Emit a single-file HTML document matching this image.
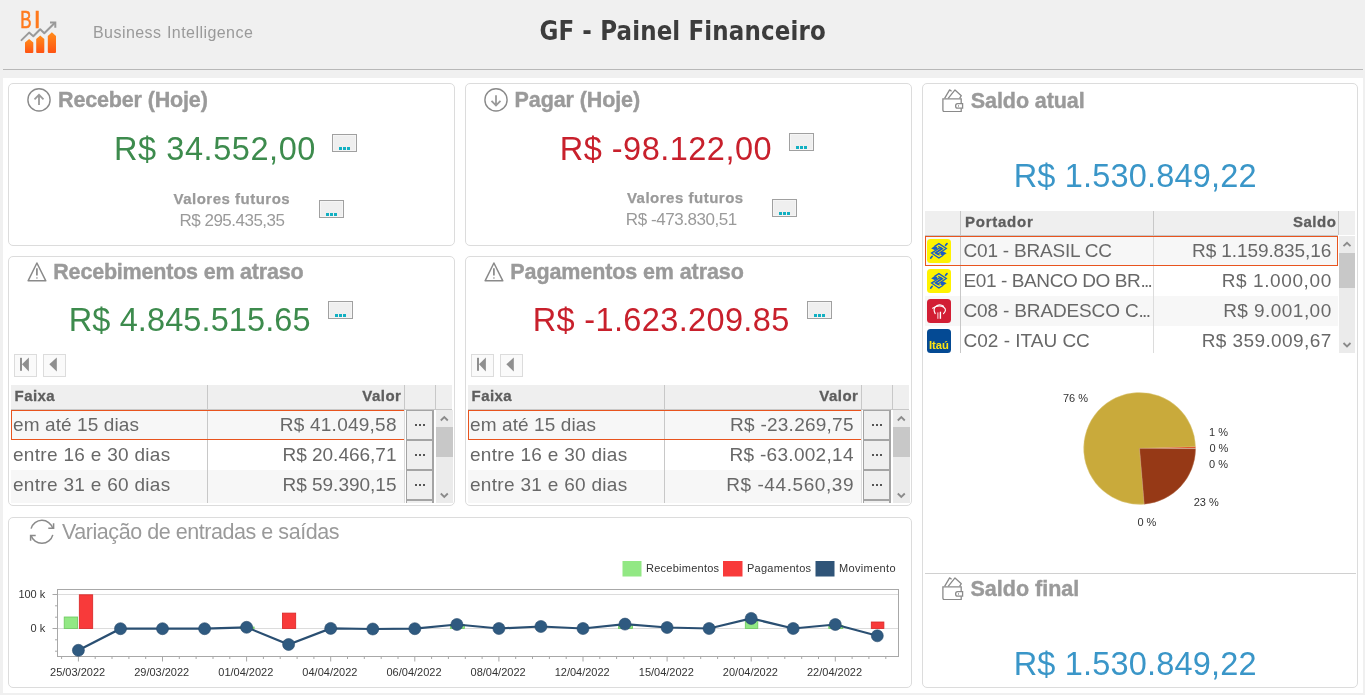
<!DOCTYPE html>
<html lang="pt-BR"><head><meta charset="utf-8"><title>GF - Painel Financeiro</title>
<style>
*{margin:0;padding:0}
html,body{width:1365px;height:695px;overflow:hidden}
body{background:#f0f0f0;position:relative;font-family:"Liberation Sans",Arial,sans-serif}
.t{position:absolute;white-space:nowrap}
.db{position:absolute;width:25px;height:18px;box-sizing:border-box;border:1px solid #a0a0a0;background:#efefef;box-shadow:inset 0 0 0 1px #f5f5f5}
.db i{position:absolute;top:12px;width:3px;height:3px;background:#12b0c2}
.gb{position:absolute;width:28px;box-sizing:border-box;border:1px solid #a4a4a4;border-right-width:2px;background:#efefef}
.gb i{position:absolute;top:13px;width:2px;height:2px;background:#555}
</style></head>
<body>
<svg style="position:absolute;left:0;top:0" width="70" height="60" viewBox="0 0 70 60">
<defs><linearGradient id="og" x1="0" y1="0" x2="0" y2="1"><stop offset="0" stop-color="#ff8c1c"/><stop offset="1" stop-color="#ff5312"/></linearGradient></defs>
<text x="20.2" y="28.4" font-family="Liberation Sans, sans-serif" font-size="24.5" fill="#ff7a1e" stroke="#ff7a1e" stroke-width="0.6" textLength="11.3" lengthAdjust="spacingAndGlyphs">B</text><text x="33.7" y="28.4" font-family="Liberation Sans, sans-serif" font-size="24.5" fill="#ff7a1e" stroke="#ff7a1e" stroke-width="0.6">I</text>
<polyline points="21.5,40.1 29.1,32.6 33.3,36.2 40.2,29.2 44.3,33.2 54.6,23" fill="none" stroke="#9a9a9a" stroke-width="2" stroke-linejoin="round" stroke-linecap="round"/>
<polyline points="50,22.6 55.3,22.6 55.3,27.8" fill="none" stroke="#9a9a9a" stroke-width="2" stroke-linejoin="miter"/>
<path d="M25,42.5 L29.1,39 L33.3,42.5 L33.3,52 Q33.3,53 32.3,53 L26,53 Q25,53 25,52 Z" fill="url(#og)"/>
<path d="M36.2,39 L40.2,35.5 L44.3,39 L44.3,52 Q44.3,53 43.3,53 L37.2,53 Q36.2,53 36.2,52 Z" fill="url(#og)"/>
<path d="M47.8,36 L51.9,32.3 L56,36 L56,52 Q56,53 55,53 L48.8,53 Q47.8,53 47.8,52 Z" fill="url(#og)"/>
</svg>
<div class="t" style="top:25.00px;font-size:16px;line-height:16px;color:#9a9a9a;font-weight:normal;font-family:'Liberation Sans', Arial, sans-serif;letter-spacing:0.45px;left:93.00px;word-spacing:0.5px;">Business Intelligence</div>
<div class="t" style="left:539.4px;top:13.5px;letter-spacing:0.12px;font-family:'DejaVu Sans', Verdana, sans-serif;font-weight:bold;font-size:23px;line-height:30px;color:#3c3c3c;transform:scaleY(1.143);transform-origin:0 0;">GF - Painel Financeiro</div>
<div style="position:absolute;left:3px;top:69px;width:1360px;height:1px;background:#b8b8b8"></div>
<div style="position:absolute;left:3px;top:78px;width:1360px;height:615px;background:#fff"></div>
<div style="position:absolute;left:8px;top:83px;width:447px;height:163px;border:1px solid #dcdcdc;border-radius:5px;box-sizing:border-box"></div>
<div style="position:absolute;left:465px;top:83px;width:447px;height:163px;border:1px solid #dcdcdc;border-radius:5px;box-sizing:border-box"></div>
<div style="position:absolute;left:8px;top:256px;width:447px;height:250px;border:1px solid #dcdcdc;border-radius:5px;box-sizing:border-box"></div>
<div style="position:absolute;left:465px;top:256px;width:447px;height:250px;border:1px solid #dcdcdc;border-radius:5px;box-sizing:border-box"></div>
<div style="position:absolute;left:8px;top:517px;width:904px;height:171px;border:1px solid #dcdcdc;border-radius:5px;box-sizing:border-box"></div>
<div style="position:absolute;left:922px;top:83px;width:436px;height:605px;border:1px solid #dcdcdc;border-radius:5px;box-sizing:border-box"></div>
<div style="position:absolute;left:925px;top:573px;width:431px;height:1px;background:#d0d0d0"></div>
<svg style="position:absolute;left:27px;top:88px" width="30" height="30" viewBox="27 88 30 30">
<circle cx="39" cy="99.9" r="11.1" fill="none" stroke="#8a8a8a" stroke-width="1.4"/>
<path d="M39,95 L39,105 M34.5,99.3 L39,94.8 L43.5,99.3" fill="none" stroke="#9a9a9a" stroke-width="1.8"/></svg>
<div class="t" style="top:90.00px;font-size:21.5px;line-height:21.5px;color:#9a9a9a;font-weight:bold;font-family:'Liberation Sans', Arial, sans-serif;letter-spacing:-0.15px;left:58.00px;-webkit-text-stroke:0.4px #9a9a9a;">Receber (Hoje)</div>
<div class="t" style="top:133.00px;font-size:32.5px;line-height:32.5px;color:#3d8b4d;font-weight:normal;font-family:'Liberation Sans', Arial, sans-serif;letter-spacing:0.57px;left:114.00px;">R$ 34.552,00</div>
<div class="db" style="left:332px;top:134px"><i style="left:6px"></i><i style="left:10px"></i><i style="left:14px"></i></div>
<div class="t" style="top:191.00px;font-size:15px;line-height:15px;color:#9a9a9a;font-weight:bold;font-family:'Liberation Sans', Arial, sans-serif;letter-spacing:0.5px;left:-168.20px;width:800px;text-align:center;-webkit-text-stroke:0.25px #9a9a9a;">Valores futuros</div>
<div class="t" style="top:212.00px;font-size:17px;line-height:17px;color:#9a9a9a;font-weight:normal;font-family:'Liberation Sans', Arial, sans-serif;letter-spacing:-0.5px;left:-168.00px;width:800px;text-align:center;">R$ 295.435,35</div>
<div class="db" style="left:319px;top:200px"><i style="left:6px"></i><i style="left:10px"></i><i style="left:14px"></i></div>
<svg style="position:absolute;left:484px;top:88px" width="30" height="30" viewBox="27 88 30 30">
<circle cx="39" cy="99.9" r="11.1" fill="none" stroke="#8a8a8a" stroke-width="1.4"/>
<path d="M39,95.3 L39,105.3 M34.5,100.9 L39,105.4 L43.5,100.9" fill="none" stroke="#9a9a9a" stroke-width="1.8"/></svg>
<div class="t" style="top:90.00px;font-size:21.5px;line-height:21.5px;color:#9a9a9a;font-weight:bold;font-family:'Liberation Sans', Arial, sans-serif;letter-spacing:-0.1px;left:514.60px;-webkit-text-stroke:0.4px #9a9a9a;">Pagar (Hoje)</div>
<div class="t" style="top:133.00px;font-size:32.5px;line-height:32.5px;color:#c8202c;font-weight:normal;font-family:'Liberation Sans', Arial, sans-serif;letter-spacing:0.48px;left:559.80px;">R$ -98.122,00</div>
<div class="db" style="left:789px;top:133px"><i style="left:6px"></i><i style="left:10px"></i><i style="left:14px"></i></div>
<div class="t" style="top:190.00px;font-size:15px;line-height:15px;color:#9a9a9a;font-weight:bold;font-family:'Liberation Sans', Arial, sans-serif;letter-spacing:0.5px;left:285.30px;width:800px;text-align:center;-webkit-text-stroke:0.25px #9a9a9a;">Valores futuros</div>
<div class="t" style="top:211.00px;font-size:17px;line-height:17px;color:#9a9a9a;font-weight:normal;font-family:'Liberation Sans', Arial, sans-serif;letter-spacing:-0.45px;left:281.30px;width:800px;text-align:center;">R$ -473.830,51</div>
<div class="db" style="left:772px;top:199px"><i style="left:6px"></i><i style="left:10px"></i><i style="left:14px"></i></div>
<svg style="position:absolute;left:24px;top:259px" width="26" height="26" viewBox="0 0 26 26">
<path d="M12.9,4 L21.8,21.8 L4.1,21.8 Z" fill="none" stroke="#8a8a8a" stroke-width="1.5" stroke-linejoin="round"/>
<path d="M12.9,9.2 L12.9,16.6 M12.9,18.4 L12.9,19.6" stroke="#8a8a8a" stroke-width="1.7"/></svg>
<div class="t" style="top:262.00px;font-size:21.5px;line-height:21.5px;color:#9a9a9a;font-weight:bold;font-family:'Liberation Sans', Arial, sans-serif;letter-spacing:-0.2px;left:53.30px;-webkit-text-stroke:0.4px #9a9a9a;">Recebimentos em atraso</div>
<div class="t" style="top:304.00px;font-size:32.5px;line-height:32.5px;color:#3d8b4d;font-weight:normal;font-family:'Liberation Sans', Arial, sans-serif;letter-spacing:0.1px;left:68.80px;">R$ 4.845.515.65</div>
<div class="db" style="left:328px;top:301px"><i style="left:6px"></i><i style="left:10px"></i><i style="left:14px"></i></div>
<svg style="position:absolute;left:14px;top:354px" width="53" height="24" viewBox="0 0 53 24">
<rect x="0.5" y="0.5" width="22" height="22" fill="#fafafa" stroke="#dcdcdc"/>
<rect x="29.5" y="0.5" width="22" height="22" fill="#fafafa" stroke="#dcdcdc"/>
<rect x="6" y="3.8" width="2" height="13" fill="#8f8f8f"/>
<path d="M8,10.3 L14.9,3.5 L14.9,17.5 Z" fill="#8f8f8f"/>
<path d="M35.3,10.3 L42.8,3.5 L42.8,17.5 Z" fill="#8f8f8f"/></svg>
<div style="position:absolute;left:11px;top:385px;width:441px;height:24px;background:#efefef"></div>
<div style="position:absolute;left:207px;top:385px;width:1px;height:24px;background:#c8c8c8"></div>
<div style="position:absolute;left:404px;top:385px;width:1px;height:24px;background:#c8c8c8"></div>
<div style="position:absolute;left:435px;top:385px;width:1px;height:24px;background:#c8c8c8"></div>
<div class="t" style="top:388.00px;font-size:15px;line-height:15px;color:#5e5e5e;font-weight:bold;font-family:'Liberation Sans', Arial, sans-serif;letter-spacing:0.4px;left:14.60px;-webkit-text-stroke:0.3px #5e5e5e;">Faixa</div>
<div class="t" style="top:388.00px;font-size:15px;line-height:15px;color:#5e5e5e;font-weight:bold;font-family:'Liberation Sans', Arial, sans-serif;letter-spacing:0.5px;right:963.60px;-webkit-text-stroke:0.3px #5e5e5e;">Valor</div>
<div style="position:absolute;left:11px;top:410px;width:393px;height:30px;background:#f7f7f7"></div>
<div class="t" style="top:415.00px;font-size:19px;line-height:19px;color:#686868;font-weight:normal;font-family:'Liberation Sans', Arial, sans-serif;letter-spacing:0.1px;left:13.00px;">em até 15 dias</div>
<div class="t" style="top:415.00px;font-size:19px;line-height:19px;color:#686868;font-weight:normal;font-family:'Liberation Sans', Arial, sans-serif;letter-spacing:0.25px;right:968.25px;">R$ 41.049,58</div>
<div style="position:absolute;left:11px;top:440px;width:393px;height:30px;background:#fff"></div>
<div class="t" style="top:445.00px;font-size:19px;line-height:19px;color:#686868;font-weight:normal;font-family:'Liberation Sans', Arial, sans-serif;letter-spacing:0.3px;left:13.00px;">entre 16 e 30 dias</div>
<div class="t" style="top:445.00px;font-size:19px;line-height:19px;color:#686868;font-weight:normal;font-family:'Liberation Sans', Arial, sans-serif;right:968.50px;">R$ 20.466,71</div>
<div style="position:absolute;left:11px;top:470px;width:393px;height:30px;background:#f7f7f7"></div>
<div class="t" style="top:475.00px;font-size:19px;line-height:19px;color:#686868;font-weight:normal;font-family:'Liberation Sans', Arial, sans-serif;letter-spacing:0.3px;left:13.00px;">entre 31 e 60 dias</div>
<div class="t" style="top:475.00px;font-size:19px;line-height:19px;color:#686868;font-weight:normal;font-family:'Liberation Sans', Arial, sans-serif;right:968.50px;">R$ 59.390,15</div>
<div style="position:absolute;left:11px;top:500px;width:393px;height:3px;background:#f7f7f7"></div>
<div style="position:absolute;left:207px;top:409px;width:1px;height:94px;background:#c8c8c8"></div>
<div style="position:absolute;left:404px;top:409px;width:1px;height:94px;background:#dcdcdc"></div>
<div style="position:absolute;left:11px;top:410px;width:393px;height:30px;border:1px solid #e8541e;border-right:none;box-sizing:border-box"></div>
<div style="position:absolute;left:11px;top:409px;width:441px;height:1px;background:#c8c8c8"></div>
<div class="gb" style="left:406px;top:410px;height:30px;"><i style="left:8px"></i><i style="left:12.2px"></i><i style="left:16.4px"></i></div>
<div class="gb" style="left:406px;top:440px;height:30px;"><i style="left:8px"></i><i style="left:12.2px"></i><i style="left:16.4px"></i></div>
<div class="gb" style="left:406px;top:470px;height:30px;"><i style="left:8px"></i><i style="left:12.2px"></i><i style="left:16.4px"></i></div>
<div class="gb" style="left:406px;top:500px;height:3px;border-bottom:none;"></div>
<div style="position:absolute;left:436px;top:410px;width:17px;height:93px;background:#ebebeb"></div>
<div style="position:absolute;left:436px;top:427px;width:17px;height:30px;background:#c8c8c8"></div>
<svg style="position:absolute;left:436px;top:410px" width="17" height="93" viewBox="0 0 17 93">
<path d="M4.8,10.5 L8.3,7 L11.8,10.5" fill="none" stroke="#8a8a8a" stroke-width="1.8"/>
<path d="M4.8,83.5 L8.3,87 L11.8,83.5" fill="none" stroke="#8a8a8a" stroke-width="1.8"/></svg>
<svg style="position:absolute;left:481px;top:259px" width="26" height="26" viewBox="0 0 26 26">
<path d="M12.9,4 L21.8,21.8 L4.1,21.8 Z" fill="none" stroke="#8a8a8a" stroke-width="1.5" stroke-linejoin="round"/>
<path d="M12.9,9.2 L12.9,16.6 M12.9,18.4 L12.9,19.6" stroke="#8a8a8a" stroke-width="1.7"/></svg>
<div class="t" style="top:262.00px;font-size:21.5px;line-height:21.5px;color:#9a9a9a;font-weight:bold;font-family:'Liberation Sans', Arial, sans-serif;letter-spacing:-0.1px;left:510.30px;-webkit-text-stroke:0.4px #9a9a9a;">Pagamentos em atraso</div>
<div class="t" style="top:304.00px;font-size:32.5px;line-height:32.5px;color:#c8202c;font-weight:normal;font-family:'Liberation Sans', Arial, sans-serif;letter-spacing:0.36px;left:532.70px;">R$ -1.623.209.85</div>
<div class="db" style="left:807px;top:301px"><i style="left:6px"></i><i style="left:10px"></i><i style="left:14px"></i></div>
<svg style="position:absolute;left:471px;top:354px" width="53" height="24" viewBox="0 0 53 24">
<rect x="0.5" y="0.5" width="22" height="22" fill="#fafafa" stroke="#dcdcdc"/>
<rect x="29.5" y="0.5" width="22" height="22" fill="#fafafa" stroke="#dcdcdc"/>
<rect x="6" y="3.8" width="2" height="13" fill="#8f8f8f"/>
<path d="M8,10.3 L14.9,3.5 L14.9,17.5 Z" fill="#8f8f8f"/>
<path d="M35.3,10.3 L42.8,3.5 L42.8,17.5 Z" fill="#8f8f8f"/></svg>
<div style="position:absolute;left:468px;top:385px;width:441px;height:24px;background:#efefef"></div>
<div style="position:absolute;left:664px;top:385px;width:1px;height:24px;background:#c8c8c8"></div>
<div style="position:absolute;left:861px;top:385px;width:1px;height:24px;background:#c8c8c8"></div>
<div style="position:absolute;left:892px;top:385px;width:1px;height:24px;background:#c8c8c8"></div>
<div class="t" style="top:388.00px;font-size:15px;line-height:15px;color:#5e5e5e;font-weight:bold;font-family:'Liberation Sans', Arial, sans-serif;letter-spacing:0.4px;left:471.60px;-webkit-text-stroke:0.3px #5e5e5e;">Faixa</div>
<div class="t" style="top:388.00px;font-size:15px;line-height:15px;color:#5e5e5e;font-weight:bold;font-family:'Liberation Sans', Arial, sans-serif;letter-spacing:0.5px;right:506.60px;-webkit-text-stroke:0.3px #5e5e5e;">Valor</div>
<div style="position:absolute;left:468px;top:410px;width:393px;height:30px;background:#f7f7f7"></div>
<div class="t" style="top:415.00px;font-size:19px;line-height:19px;color:#686868;font-weight:normal;font-family:'Liberation Sans', Arial, sans-serif;letter-spacing:0.1px;left:470.00px;">em até 15 dias</div>
<div class="t" style="top:415.00px;font-size:19px;line-height:19px;color:#686868;font-weight:normal;font-family:'Liberation Sans', Arial, sans-serif;letter-spacing:0.25px;right:511.25px;">R$ -23.269,75</div>
<div style="position:absolute;left:468px;top:440px;width:393px;height:30px;background:#fff"></div>
<div class="t" style="top:445.00px;font-size:19px;line-height:19px;color:#686868;font-weight:normal;font-family:'Liberation Sans', Arial, sans-serif;letter-spacing:0.3px;left:470.00px;">entre 16 e 30 dias</div>
<div class="t" style="top:445.00px;font-size:19px;line-height:19px;color:#686868;font-weight:normal;font-family:'Liberation Sans', Arial, sans-serif;letter-spacing:0.3px;right:511.20px;">R$ -63.002,14</div>
<div style="position:absolute;left:468px;top:470px;width:393px;height:30px;background:#f7f7f7"></div>
<div class="t" style="top:475.00px;font-size:19px;line-height:19px;color:#686868;font-weight:normal;font-family:'Liberation Sans', Arial, sans-serif;letter-spacing:0.3px;left:470.00px;">entre 31 e 60 dias</div>
<div class="t" style="top:475.00px;font-size:19px;line-height:19px;color:#686868;font-weight:normal;font-family:'Liberation Sans', Arial, sans-serif;letter-spacing:0.58px;right:510.92px;">R$ -44.560,39</div>
<div style="position:absolute;left:468px;top:500px;width:393px;height:3px;background:#f7f7f7"></div>
<div style="position:absolute;left:664px;top:409px;width:1px;height:94px;background:#c8c8c8"></div>
<div style="position:absolute;left:861px;top:409px;width:1px;height:94px;background:#dcdcdc"></div>
<div style="position:absolute;left:468px;top:410px;width:393px;height:30px;border:1px solid #e8541e;border-right:none;box-sizing:border-box"></div>
<div style="position:absolute;left:468px;top:409px;width:441px;height:1px;background:#c8c8c8"></div>
<div class="gb" style="left:863px;top:410px;height:30px;"><i style="left:8px"></i><i style="left:12.2px"></i><i style="left:16.4px"></i></div>
<div class="gb" style="left:863px;top:440px;height:30px;"><i style="left:8px"></i><i style="left:12.2px"></i><i style="left:16.4px"></i></div>
<div class="gb" style="left:863px;top:470px;height:30px;"><i style="left:8px"></i><i style="left:12.2px"></i><i style="left:16.4px"></i></div>
<div class="gb" style="left:863px;top:500px;height:3px;border-bottom:none;"></div>
<div style="position:absolute;left:893px;top:410px;width:17px;height:93px;background:#ebebeb"></div>
<div style="position:absolute;left:893px;top:427px;width:17px;height:30px;background:#c8c8c8"></div>
<svg style="position:absolute;left:893px;top:410px" width="17" height="93" viewBox="0 0 17 93">
<path d="M4.8,10.5 L8.3,7 L11.8,10.5" fill="none" stroke="#8a8a8a" stroke-width="1.8"/>
<path d="M4.8,83.5 L8.3,87 L11.8,83.5" fill="none" stroke="#8a8a8a" stroke-width="1.8"/></svg>
<svg style="position:absolute;left:938px;top:86px" width="26" height="26" viewBox="938 86 26 26">
<path d="M944.6,98.3 L949.6,89.9 L951.6,91.3 M948.2,98.3 L955,89.9 L961.3,95.7 L959.6,98.3" fill="none" stroke="#8a8a8a" stroke-width="1.3" stroke-linejoin="round"/>
<path d="M942.9,98.9 L961.2,98.9 L961.2,111.6 L944.4,111.6 Q942.9,111.6 942.9,110 Z" fill="none" stroke="#8a8a8a" stroke-width="1.3"/>
<path d="M962.6,103.6 L957.6,103.6 Q955.6,103.6 955.6,105.9 Q955.6,108.2 957.6,108.2 L962.6,108.2 Z" fill="#fff" stroke="#8a8a8a" stroke-width="1.3"/>
<rect x="958" y="105.2" width="0.9" height="1.5" fill="#8a8a8a"/></svg>
<div class="t" style="top:91.00px;font-size:21.5px;line-height:21.5px;color:#9a9a9a;font-weight:bold;font-family:'Liberation Sans', Arial, sans-serif;letter-spacing:-0.08px;left:970.80px;-webkit-text-stroke:0.4px #9a9a9a;">Saldo atual</div>
<div class="t" style="top:160.00px;font-size:32.5px;line-height:32.5px;color:#3a96c8;font-weight:normal;font-family:'Liberation Sans', Arial, sans-serif;letter-spacing:0.18px;left:735.20px;width:800px;text-align:center;">R$ 1.530.849,22</div>
<div style="position:absolute;left:925px;top:211px;width:430px;height:24px;background:#efefef"></div>
<div style="position:absolute;left:960px;top:211px;width:1px;height:24px;background:#c8c8c8"></div>
<div style="position:absolute;left:1153px;top:211px;width:1px;height:24px;background:#c8c8c8"></div>
<div style="position:absolute;left:1338px;top:211px;width:1px;height:24px;background:#c8c8c8"></div>
<div class="t" style="top:214.00px;font-size:15px;line-height:15px;color:#5e5e5e;font-weight:bold;font-family:'Liberation Sans', Arial, sans-serif;letter-spacing:0.75px;left:965.00px;-webkit-text-stroke:0.3px #5e5e5e;">Portador</div>
<div class="t" style="top:214.00px;font-size:15px;line-height:15px;color:#5e5e5e;font-weight:bold;font-family:'Liberation Sans', Arial, sans-serif;letter-spacing:0.5px;right:28.70px;-webkit-text-stroke:0.3px #5e5e5e;">Saldo</div>
<div style="position:absolute;left:925px;top:236px;width:413px;height:30px;background:#f7f7f7"></div>
<div class="t" style="top:241.00px;font-size:19px;line-height:19px;color:#686868;font-weight:normal;font-family:'Liberation Sans', Arial, sans-serif;letter-spacing:-0.2px;left:963.50px;">C01 - BRASIL CC</div>
<div class="t" style="top:241.00px;font-size:19px;line-height:19px;color:#686868;font-weight:normal;font-family:'Liberation Sans', Arial, sans-serif;letter-spacing:-0.1px;right:33.90px;">R$ 1.159.835,16</div>
<svg style="position:absolute;left:927px;top:239px" width="24" height="24" viewBox="0 0 24 24">
<rect width="24" height="24" rx="3.5" fill="#fff200"/>
<g fill="none" stroke="#1b5cc4" stroke-width="1.3" stroke-linejoin="miter">
<path d="M7.6,7.4 L11.9,4.6 L19.3,9.5 L10.6,15.2 L8.3,13.8 L14.8,9.6 L11.2,7.3"/>
<path d="M16.2,16.2 L11.9,19 L4.5,14.1 L13.2,8.4 L15.5,9.8 L9,14 L12.6,16.3"/></g>
<path d="M4.2,9.4 L7.6,7.1 L10.3,7.9 L10.3,10.6 L7.6,11 Z" fill="#1b5cc4"/>
<path d="M19.6,14.2 L16.2,16.5 L13.5,15.7 L13.5,13 L16.2,12.6 Z" fill="#1b5cc4"/>
<path d="M18.6,6.3 L20,4.6 M5.2,17.3 L3.8,19" stroke="#1b5cc4" stroke-width="1.7" stroke-linecap="round"/></svg>
<div style="position:absolute;left:925px;top:266px;width:413px;height:30px;background:#fff"></div>
<div class="t" style="top:271.00px;font-size:19px;line-height:19px;color:#686868;font-weight:normal;font-family:'Liberation Sans', Arial, sans-serif;letter-spacing:-0.4px;left:963.50px;">E01 - BANCO DO BR<span style="letter-spacing:-1.7px">...</span></div>
<div class="t" style="top:271.00px;font-size:19px;line-height:19px;color:#686868;font-weight:normal;font-family:'Liberation Sans', Arial, sans-serif;letter-spacing:0.6px;right:33.20px;">R$ 1.000,00</div>
<svg style="position:absolute;left:927px;top:269px" width="24" height="24" viewBox="0 0 24 24">
<rect width="24" height="24" rx="3.5" fill="#fff200"/>
<g fill="none" stroke="#1b5cc4" stroke-width="1.3" stroke-linejoin="miter">
<path d="M7.6,7.4 L11.9,4.6 L19.3,9.5 L10.6,15.2 L8.3,13.8 L14.8,9.6 L11.2,7.3"/>
<path d="M16.2,16.2 L11.9,19 L4.5,14.1 L13.2,8.4 L15.5,9.8 L9,14 L12.6,16.3"/></g>
<path d="M4.2,9.4 L7.6,7.1 L10.3,7.9 L10.3,10.6 L7.6,11 Z" fill="#1b5cc4"/>
<path d="M19.6,14.2 L16.2,16.5 L13.5,15.7 L13.5,13 L16.2,12.6 Z" fill="#1b5cc4"/>
<path d="M18.6,6.3 L20,4.6 M5.2,17.3 L3.8,19" stroke="#1b5cc4" stroke-width="1.7" stroke-linecap="round"/></svg>
<div style="position:absolute;left:925px;top:296px;width:413px;height:30px;background:#f7f7f7"></div>
<div class="t" style="top:301.00px;font-size:19px;line-height:19px;color:#686868;font-weight:normal;font-family:'Liberation Sans', Arial, sans-serif;letter-spacing:-0.15px;left:963.50px;">C08 - BRADESCO C<span style="letter-spacing:-1.7px">...</span></div>
<div class="t" style="top:301.00px;font-size:19px;line-height:19px;color:#686868;font-weight:normal;font-family:'Liberation Sans', Arial, sans-serif;letter-spacing:0.45px;right:33.35px;">R$ 9.001,00</div>
<svg style="position:absolute;left:927px;top:299px" width="24" height="24" viewBox="0 0 24 24">
<rect width="24" height="24" rx="3.5" fill="#d21e34"/>
<g fill="none" stroke="#fff" stroke-linecap="round">
<path d="M8.2,14.6 Q5.2,9.2 10.1,6.5 Q13.6,4.9 16.5,7.3" stroke-width="1.2"/>
<path d="M5.6,9.2 Q11.6,5.4 16.8,8.2 Q20.3,10.8 16.5,14.6" stroke-width="1.1"/></g>
<rect x="10.2" y="13.4" width="0.8" height="6.4" fill="#f2b8c0"/>
<rect x="11.5" y="13.4" width="0.7" height="6.4" fill="#f2b8c0"/>
<rect x="12.8" y="12.7" width="1.3" height="7.1" fill="#fff"/></svg>
<div style="position:absolute;left:925px;top:326px;width:413px;height:27px;background:#fff"></div>
<div class="t" style="top:331.00px;font-size:19px;line-height:19px;color:#686868;font-weight:normal;font-family:'Liberation Sans', Arial, sans-serif;left:963.50px;">C02 - ITAU CC</div>
<div class="t" style="top:331.00px;font-size:19px;line-height:19px;color:#686868;font-weight:normal;font-family:'Liberation Sans', Arial, sans-serif;letter-spacing:0.4px;right:33.40px;">R$ 359.009,67</div>
<svg style="position:absolute;left:927px;top:329px" width="24" height="24" viewBox="0 0 24 24">
<rect width="24" height="24" rx="3.5" fill="#044a94"/>
<text x="2" y="20.3" font-family="Liberation Sans, sans-serif" font-weight="bold" font-size="11" fill="#ffe512" textLength="20" lengthAdjust="spacingAndGlyphs">Itaú</text></svg>
<div style="position:absolute;left:960px;top:235px;width:1px;height:118px;background:#c8c8c8"></div>
<div style="position:absolute;left:1153px;top:235px;width:1px;height:118px;background:#dcdcdc"></div>
<div style="position:absolute;left:925px;top:235px;width:413px;height:1px;background:#c8c8c8"></div>
<div style="position:absolute;left:925px;top:236px;width:413px;height:30px;border:1px solid #e8541e;box-sizing:border-box"></div>
<div style="position:absolute;left:1339px;top:236px;width:16px;height:117px;background:#ebebeb"></div>
<div style="position:absolute;left:1339px;top:253px;width:16px;height:35px;background:#c8c8c8"></div>
<svg style="position:absolute;left:1339px;top:236px" width="16" height="117" viewBox="0 0 16 117">
<path d="M4.5,10.2 L8,6.8 L11.5,10.2" fill="none" stroke="#8a8a8a" stroke-width="1.8"/>
<path d="M4.5,107 L8,110.5 L11.5,107" fill="none" stroke="#8a8a8a" stroke-width="1.8"/></svg>
<svg style="position:absolute;left:1040px;top:380px" width="200" height="160" viewBox="1040 380 200 160">
<path d="M1139.6,448.4 L1144.29,504.20 A56,56 0 1 1 1195.58,446.84 Z" fill="#c9aa3b" stroke="#e8dcaa" stroke-width="0.4"/>
<path d="M1139.6,448.4 L1195.58,446.84 A56,56 0 0 1 1195.60,447.91 Z" fill="#e05a2c"/>
<path d="M1139.6,448.4 L1195.60,447.91 A56,56 0 0 1 1195.60,448.69 Z" fill="#e8d8c8"/>
<path d="M1139.6,448.4 L1195.60,448.69 A56,56 0 0 1 1144.29,504.20 Z" fill="#963916" stroke="#c08060" stroke-width="0.4"/>
<text x="1063" y="401.8" font-family="Liberation Sans, sans-serif" font-size="11" fill="#333">76 %</text><text x="1209" y="436" font-family="Liberation Sans, sans-serif" font-size="11" fill="#333">1 %</text><text x="1209.4" y="452" font-family="Liberation Sans, sans-serif" font-size="11" fill="#333">0 %</text><text x="1209" y="468" font-family="Liberation Sans, sans-serif" font-size="11" fill="#333">0 %</text><text x="1193.7" y="505.8" font-family="Liberation Sans, sans-serif" font-size="11" fill="#333">23 %</text><text x="1137.4" y="526" font-family="Liberation Sans, sans-serif" font-size="11" fill="#333">0 %</text></svg>
<svg style="position:absolute;left:938px;top:574px" width="26" height="26" viewBox="938 86 26 26">
<path d="M944.6,98.3 L949.6,89.9 L951.6,91.3 M948.2,98.3 L955,89.9 L961.3,95.7 L959.6,98.3" fill="none" stroke="#8a8a8a" stroke-width="1.3" stroke-linejoin="round"/>
<path d="M942.9,98.9 L961.2,98.9 L961.2,111.6 L944.4,111.6 Q942.9,111.6 942.9,110 Z" fill="none" stroke="#8a8a8a" stroke-width="1.3"/>
<path d="M962.6,103.6 L957.6,103.6 Q955.6,103.6 955.6,105.9 Q955.6,108.2 957.6,108.2 L962.6,108.2 Z" fill="#fff" stroke="#8a8a8a" stroke-width="1.3"/>
<rect x="958" y="105.2" width="0.9" height="1.5" fill="#8a8a8a"/></svg>
<div class="t" style="top:579.00px;font-size:21.5px;line-height:21.5px;color:#9a9a9a;font-weight:bold;font-family:'Liberation Sans', Arial, sans-serif;left:970.50px;-webkit-text-stroke:0.4px #9a9a9a;">Saldo final</div>
<div class="t" style="top:648.00px;font-size:32.5px;line-height:32.5px;color:#3a96c8;font-weight:normal;font-family:'Liberation Sans', Arial, sans-serif;letter-spacing:0.18px;left:735.20px;width:800px;text-align:center;">R$ 1.530.849,22</div>
<svg style="position:absolute;left:26px;top:517px" width="32" height="32" viewBox="26 517 32 32">
<g fill="none" stroke="#8a8a8a" stroke-width="1.5">
<path d="M31.1,528.6 A11.3,11.3 0 0 1 52.8,528.4"/>
<path d="M48.3,528.3 L53.6,528.3 L53.6,523.2"/>
<path d="M52.8,534.9 A11.3,11.3 0 0 1 31,535.2"/>
<path d="M35.7,535.4 L30.6,535.4 L30.6,540.7"/></g></svg>
<div class="t" style="top:522.00px;font-size:21.5px;line-height:21.5px;color:#9a9a9a;font-weight:normal;font-family:'Liberation Sans', Arial, sans-serif;letter-spacing:-0.45px;left:62.00px;">Variação de entradas e saídas</div>
<svg style="position:absolute;left:0;top:550px" width="912" height="135" viewBox="0 550 912 135" font-family="Liberation Sans, sans-serif" font-size="11">
<rect x="622.5" y="561" width="19" height="15.5" fill="#92e884"/>
<rect x="723" y="561" width="19.5" height="15.5" fill="#f83a3a"/>
<rect x="815.5" y="561" width="19" height="15.5" fill="#2f5478"/>
<text x="646" y="572" fill="#333" letter-spacing="0.25">Recebimentos</text>
<text x="747" y="572" fill="#333" letter-spacing="0.25">Pagamentos</text>
<text x="839" y="572" fill="#333" letter-spacing="0.35">Movimento</text>
<path d="M58,594.5 L898,594.5 M58,628.5 L898,628.5" stroke="#dcdcdc" stroke-width="1"/>
<rect x="64.2" y="617" width="13.399999999999991" height="11.5" fill="#92e884" stroke="#6cc85e" stroke-width="0.8"/>
<rect x="79.3" y="594.8" width="13.400000000000006" height="33.700000000000045" fill="#f83a3a" stroke="#d82626" stroke-width="0.8"/>
<rect x="282.4" y="613.1" width="13.300000000000011" height="15.399999999999977" fill="#f83a3a" stroke="#d82626" stroke-width="0.8"/>
<rect x="745.3" y="619.5" width="12.5" height="9.0" fill="#92e884" stroke="#6cc85e" stroke-width="0.8"/>
<rect x="871.3" y="622" width="12.600000000000023" height="6.5" fill="#f83a3a" stroke="#d82626" stroke-width="0.8"/>
<rect x="240.1" y="627.0" width="14.0" height="1.5" fill="#92e884" stroke="#6cc85e" stroke-width="0.8"/>
<rect x="450.35" y="624.5" width="14.0" height="4.0" fill="#92e884" stroke="#6cc85e" stroke-width="0.8"/>
<rect x="618.55" y="624.5" width="14.0" height="4.0" fill="#92e884" stroke="#6cc85e" stroke-width="0.8"/>
<rect x="828.8" y="625.5" width="14.0" height="3.0" fill="#92e884" stroke="#6cc85e" stroke-width="0.8"/>
<rect x="57.5" y="589.5" width="841" height="67" fill="none" stroke="#a8a8a8" stroke-width="1"/>
<path d="M52.5,594.5 L57.5,594.5 M52.5,628.5 L57.5,628.5 M55,605.8 L57.5,605.8 M55,617.2 L57.5,617.2 M55,639.8 L57.5,639.8 M55,651.2 L57.5,651.2 M78.4,656.5 L78.4,661.5 M162.5,656.5 L162.5,661.5 M246.6,656.5 L246.6,661.5 M330.7,656.5 L330.7,661.5 M414.8,656.5 L414.8,661.5 M498.9,656.5 L498.9,661.5 M583.0,656.5 L583.0,661.5 M667.1,656.5 L667.1,661.5 M751.2,656.5 L751.2,661.5 M835.3,656.5 L835.3,661.5 M61.6,656.5 L61.6,659 M95.2,656.5 L95.2,659 M112.0,656.5 L112.0,659 M128.9,656.5 L128.9,659 M145.7,656.5 L145.7,659 M179.3,656.5 L179.3,659 M196.1,656.5 L196.1,659 M213.0,656.5 L213.0,659 M229.8,656.5 L229.8,659 M263.4,656.5 L263.4,659 M280.2,656.5 L280.2,659 M297.1,656.5 L297.1,659 M313.9,656.5 L313.9,659 M347.5,656.5 L347.5,659 M364.3,656.5 L364.3,659 M381.2,656.5 L381.2,659 M398.0,656.5 L398.0,659 M431.6,656.5 L431.6,659 M448.4,656.5 L448.4,659 M465.3,656.5 L465.3,659 M482.1,656.5 L482.1,659 M515.7,656.5 L515.7,659 M532.5,656.5 L532.5,659 M549.4,656.5 L549.4,659 M566.2,656.5 L566.2,659 M599.8,656.5 L599.8,659 M616.6,656.5 L616.6,659 M633.5,656.5 L633.5,659 M650.3,656.5 L650.3,659 M683.9,656.5 L683.9,659 M700.7,656.5 L700.7,659 M717.6,656.5 L717.6,659 M734.4,656.5 L734.4,659 M768.0,656.5 L768.0,659 M784.8,656.5 L784.8,659 M801.7,656.5 L801.7,659 M818.5,656.5 L818.5,659 M852.1,656.5 L852.1,659 M868.9,656.5 L868.9,659 M885.8,656.5 L885.8,659" stroke="#a8a8a8" stroke-width="1"/>
<text x="45.3" y="597.8" text-anchor="end" fill="#333">100 k</text>
<text x="45.3" y="631.8" text-anchor="end" fill="#333">0 k</text>
<text x="77.6" y="676" text-anchor="middle" fill="#333">25/03/2022</text>
<text x="161.7" y="676" text-anchor="middle" fill="#333">29/03/2022</text>
<text x="245.8" y="676" text-anchor="middle" fill="#333">01/04/2022</text>
<text x="329.9" y="676" text-anchor="middle" fill="#333">04/04/2022</text>
<text x="414.0" y="676" text-anchor="middle" fill="#333">06/04/2022</text>
<text x="498.1" y="676" text-anchor="middle" fill="#333">08/04/2022</text>
<text x="582.2" y="676" text-anchor="middle" fill="#333">12/04/2022</text>
<text x="666.3" y="676" text-anchor="middle" fill="#333">15/04/2022</text>
<text x="750.4" y="676" text-anchor="middle" fill="#333">20/04/2022</text>
<text x="834.5" y="676" text-anchor="middle" fill="#333">22/04/2022</text>
<polyline points="78.4,650.3 120.5,628.7 162.5,628.7 204.6,628.7 246.6,627.3 288.6,644.5 330.7,628.4 372.8,629 414.8,628.7 456.9,624.5 498.9,628.5 540.9,626.5 583.0,628.5 625.0,624.1 667.1,627.5 709.1,628.5 751.2,618.4 793.2,628.5 835.3,624.5 877.3,635.8" fill="none" stroke="#2a4f72" stroke-width="2.2"/>
<circle cx="78.4" cy="650.3" r="6" fill="#2f5a80" stroke="#264a6c" stroke-width="0.6"/>
<circle cx="120.5" cy="628.7" r="6" fill="#2f5a80" stroke="#264a6c" stroke-width="0.6"/>
<circle cx="162.5" cy="628.7" r="6" fill="#2f5a80" stroke="#264a6c" stroke-width="0.6"/>
<circle cx="204.6" cy="628.7" r="6" fill="#2f5a80" stroke="#264a6c" stroke-width="0.6"/>
<circle cx="246.6" cy="627.3" r="6" fill="#2f5a80" stroke="#264a6c" stroke-width="0.6"/>
<circle cx="288.6" cy="644.5" r="6" fill="#2f5a80" stroke="#264a6c" stroke-width="0.6"/>
<circle cx="330.7" cy="628.4" r="6" fill="#2f5a80" stroke="#264a6c" stroke-width="0.6"/>
<circle cx="372.8" cy="629" r="6" fill="#2f5a80" stroke="#264a6c" stroke-width="0.6"/>
<circle cx="414.8" cy="628.7" r="6" fill="#2f5a80" stroke="#264a6c" stroke-width="0.6"/>
<circle cx="456.9" cy="624.5" r="6" fill="#2f5a80" stroke="#264a6c" stroke-width="0.6"/>
<circle cx="498.9" cy="628.5" r="6" fill="#2f5a80" stroke="#264a6c" stroke-width="0.6"/>
<circle cx="540.9" cy="626.5" r="6" fill="#2f5a80" stroke="#264a6c" stroke-width="0.6"/>
<circle cx="583.0" cy="628.5" r="6" fill="#2f5a80" stroke="#264a6c" stroke-width="0.6"/>
<circle cx="625.0" cy="624.1" r="6" fill="#2f5a80" stroke="#264a6c" stroke-width="0.6"/>
<circle cx="667.1" cy="627.5" r="6" fill="#2f5a80" stroke="#264a6c" stroke-width="0.6"/>
<circle cx="709.1" cy="628.5" r="6" fill="#2f5a80" stroke="#264a6c" stroke-width="0.6"/>
<circle cx="751.2" cy="618.4" r="6" fill="#2f5a80" stroke="#264a6c" stroke-width="0.6"/>
<circle cx="793.2" cy="628.5" r="6" fill="#2f5a80" stroke="#264a6c" stroke-width="0.6"/>
<circle cx="835.3" cy="624.5" r="6" fill="#2f5a80" stroke="#264a6c" stroke-width="0.6"/>
<circle cx="877.3" cy="635.8" r="6" fill="#2f5a80" stroke="#264a6c" stroke-width="0.6"/>
</svg>
</body></html>
